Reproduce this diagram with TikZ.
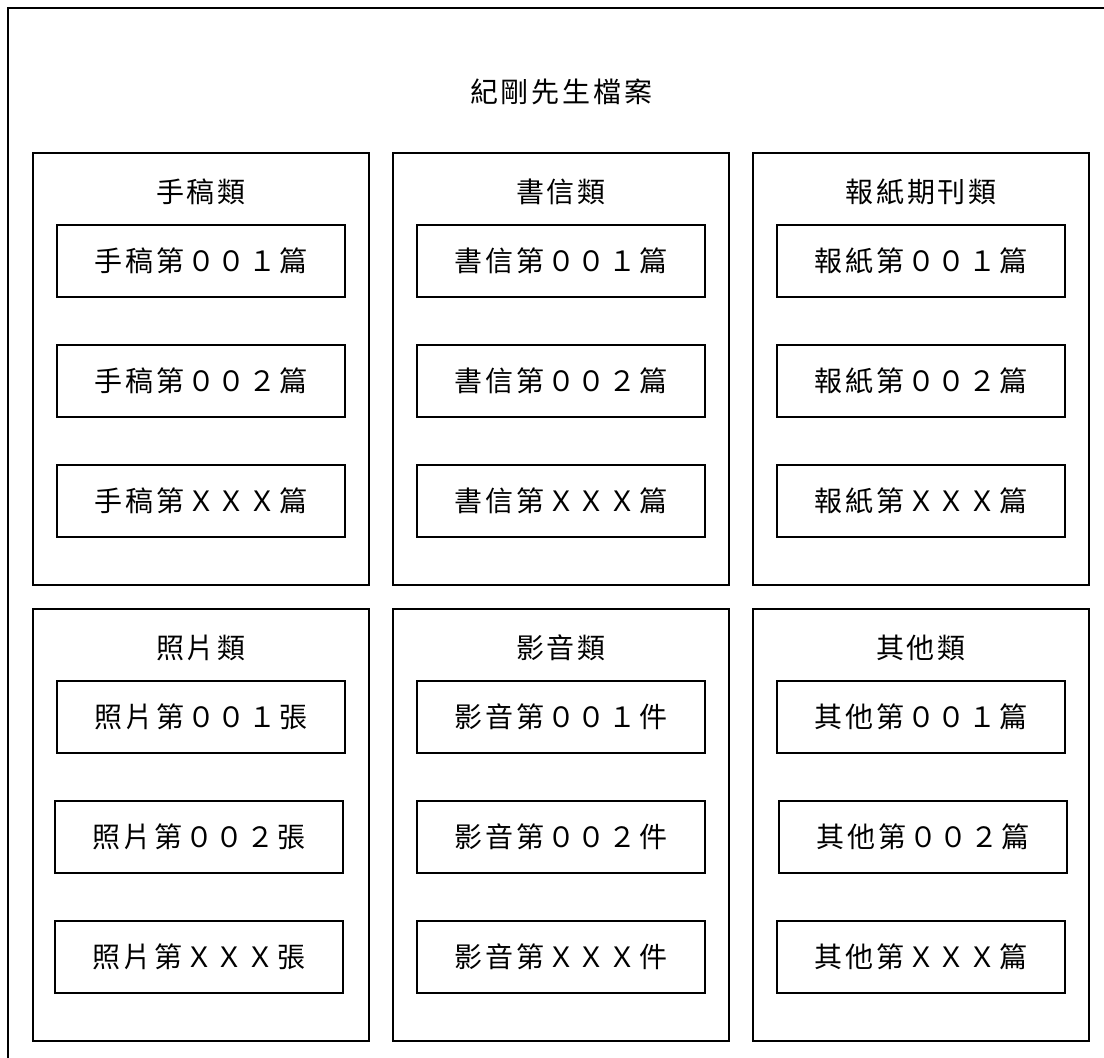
\documentclass[tikz,border=0pt]{standalone}
\usepackage{fontspec}
\newfontfamily\cjkfont{Noto Sans CJK TC}[LetterSpace=10]
\usetikzlibrary{positioning}

\begin{document}
\begin{tikzpicture}[
        x=0.5pt, y=-0.5pt,
        line width=0.9pt,
        cattitle/.style={font=\cjkfont\fontsize{14pt}{16pt}\selectfont, inner sep=0pt},
        catbox/.style={rectangle, draw=black, minimum width=168pt, minimum height=216pt, inner sep=0pt, outer sep=0pt},
        itembox/.style={rectangle, draw=black, minimum width=144pt, minimum height=36pt, inner sep=0pt, outer sep=0pt, font=\cjkfont\fontsize{14pt}{16pt}\selectfont},
        ]
        \useasboundingbox (0,0) rectangle (1104,1058);

        %Frame
        \draw (1104,8) -- (8,8) -- (8,1058);

        %Title
        \node[cattitle] (archive) at (561,92) {紀剛先生檔案};

        %Category boxes
        \node[catbox]   (manu)                      at (201,369) {};
        \node[catbox]   (letter) [right=12pt of manu]            {};
        \node[catbox]   (press)  [right=12pt of letter]          {};
        \node[catbox]   (photo)  [below=12pt of manu]            {};
        \node[catbox]   (media)  [right=12pt of photo]           {};
        \node[catbox]   (misc)   [right=12pt of media]           {};

        %Category titles
        \node[cattitle] (manu-t)   at ([yshift=-19.5pt]manu.north)   {手稿類};
        \node[cattitle] (letter-t) at ([yshift=-19.5pt]letter.north) {書信類};
        \node[cattitle] (press-t)  at ([yshift=-19.5pt]press.north)  {報紙期刊類};
        \node[cattitle] (photo-t)  at ([yshift=-19.5pt]photo.north)  {照片類};
        \node[cattitle] (media-t)  at ([yshift=-19.5pt]media.north)  {影音類};
        \node[cattitle] (misc-t)   at ([yshift=-19.5pt]misc.north)   {其他類};

        %Items
        \node[itembox]  (manu1)   [below=36pt of manu.north]   {手稿第００１篇};
        \node[itembox]  (manu2)   [below=24pt of manu1]        {手稿第００２篇};
        \node[itembox]  (manu3)   [below=24pt of manu2]        {手稿第ＸＸＸ篇};

        \node[itembox]  (letter1) [below=36pt of letter.north] {書信第００１篇};
        \node[itembox]  (letter2) [below=24pt of letter1]      {書信第００２篇};
        \node[itembox]  (letter3) [below=24pt of letter2]      {書信第ＸＸＸ篇};

        \node[itembox]  (press1)  [below=36pt of press.north]  {報紙第００１篇};
        \node[itembox]  (press2)  [below=24pt of press1]       {報紙第００２篇};
        \node[itembox]  (press3)  [below=24pt of press2]       {報紙第ＸＸＸ篇};

        \node[itembox]  (photo1)  [below=36pt of photo.north]  {照片第００１張};
        \node[itembox]  (photo2)  [below=24pt of photo1, xshift=-1pt] {照片第００２張};
        \node[itembox]  (photo3)  [below=24pt of photo2]       {照片第ＸＸＸ張};

        \node[itembox]  (media1)  [below=36pt of media.north]  {影音第００１件};
        \node[itembox]  (media2)  [below=24pt of media1]       {影音第００２件};
        \node[itembox]  (media3)  [below=24pt of media2]       {影音第ＸＸＸ件};

        \node[itembox]  (misc1)   [below=36pt of misc.north]   {其他第００１篇};
        \node[itembox]  (misc2)   [below=24pt of misc1, xshift=1pt] {其他第００２篇};
        \node[itembox]  (misc3)   [below=24pt of misc2, xshift=-1pt] {其他第ＸＸＸ篇};
\end{tikzpicture}
\end{document}
